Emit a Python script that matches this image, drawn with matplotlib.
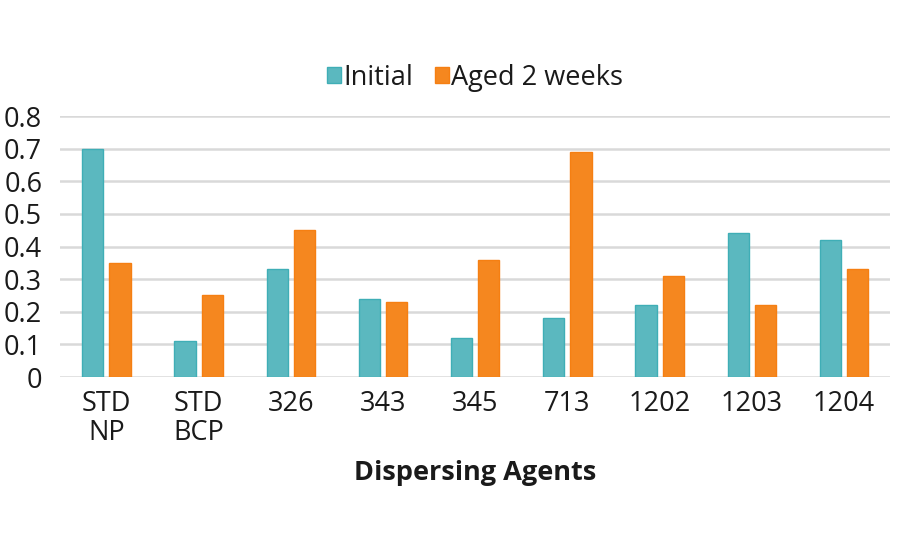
import numpy as np
import matplotlib.pyplot as plt

categories = ['STD\nNP', 'STD\nBCP', '326', '343', '345', '713', '1202', '1203', '1204']
initial = [0.70, 0.11, 0.33, 0.24, 0.12, 0.18, 0.22, 0.44, 0.42]
aged = [0.35, 0.25, 0.45, 0.23, 0.36, 0.69, 0.31, 0.22, 0.33]
yticks = [0, 0.1, 0.2, 0.3, 0.4, 0.5, 0.6, 0.7, 0.8]
ytick_labels = ['0', '0.1', '0.2', '0.3', '0.4', '0.5', '0.6', '0.7', '0.8']

plt.rcParams['font.family'] = ['Open Sans', 'DejaVu Sans']
fs = 19.5

fig = plt.figure(figsize=(9, 5.5), dpi=100)
ax = fig.add_axes([0.067, 0.3145, 0.922, 0.4745])

x = np.arange(len(categories))
w = 0.23
off = 0.147
ax.bar(x - off, initial, w, color='#5BB8BF', edgecolor='#3FAEB6', linewidth=1, label='Initial', zorder=3)
ax.bar(x + off, aged, w, color='#F5871F', edgecolor='#F57F12', linewidth=1, label='Aged 2 weeks', zorder=3)

ax.set_xlim(-0.5, len(categories) - 0.5)
ax.set_ylim(0, 0.8)
ax.set_yticks(yticks)
ax.set_yticklabels(ytick_labels)
ax.set_xticks(x)
ax.set_xticklabels(categories, linespacing=1.05)
ax.grid(axis='y', color='#D9D9D9', linewidth=1.8, zorder=0)
ax.set_axisbelow(True)
for s in ax.spines.values():
    s.set_visible(False)
ax.tick_params(axis='both', length=0, labelsize=fs, colors='#1a1a1a')
ax.tick_params(axis='x', pad=9)
ax.tick_params(axis='y', pad=13)

ax.set_xlabel('Dispersing Agents', fontsize=fs, fontweight='bold', color='#1a1a1a', labelpad=10)

ax.legend(loc='lower center', bbox_to_anchor=(0.5, 1.0), ncol=2, frameon=False,
          fontsize=fs, handlelength=0.5, handleheight=0.5, handletextpad=0.1,
          columnspacing=0.8, labelcolor='#1a1a1a')

fig.savefig('out.png', dpi=100)
